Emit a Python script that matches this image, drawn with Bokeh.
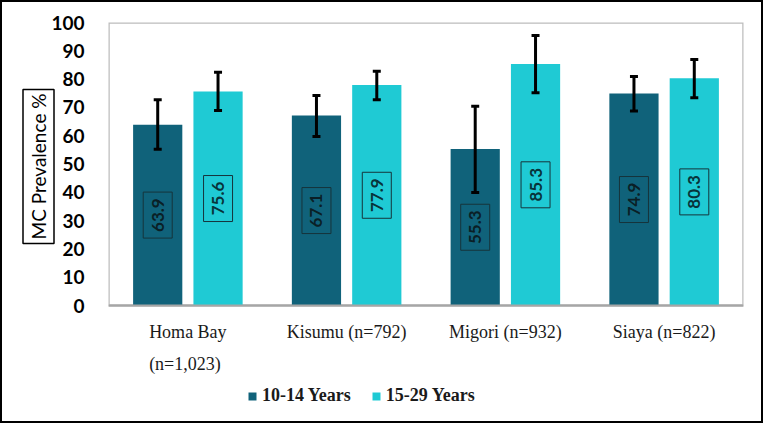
from math import pi
from bokeh.plotting import figure
from bokeh.models import (FactorRange, ColumnDataSource, Whisker, TeeHead, LabelSet,
                          Title, Legend, LegendItem, BoxAnnotation, Span, Range1d)
from bokeh.transform import dodge
from bokeh.core.properties import value
from bokeh.embed import file_html
from bokeh.resources import INLINE

categories = ["Homa Bay\n(n=1,023)", "Kisumu (n=792)", "Migori (n=932)", "Siaya (n=822)"]
series = ["10-14 Years", "15-29 Years"]
prev_10_14 = [63.9, 67.1, 55.3, 74.9]
prev_15_29 = [75.6, 77.9, 85.3, 80.3]
lo_10_14 = [55.2, 59.7, 39.9, 68.7]
hi_10_14 = [72.7, 74.2, 70.4, 80.9]
lo_15_29 = [68.9, 72.7, 75.2, 73.4]
hi_15_29 = [82.4, 82.8, 95.4, 86.9]
y_ticks = list(range(0, 101, 10))
Y_MIN, Y_MAX = 0, 100

DARK = "#10627a"
CYAN = "#1fcad4"

src = ColumnDataSource(dict(
    cat=categories,
    v1=prev_10_14, v2=prev_15_29,
    l1=lo_10_14, u1=hi_10_14, l2=lo_15_29, u2=hi_15_29,
    h1=[v / 2 for v in prev_10_14], h2=[v / 2 for v in prev_15_29],
    t1=[f"{v:.1f}" for v in prev_10_14], t2=[f"{v:.1f}" for v in prev_15_29],
))

# frame extends below the value axis to hold category labels and legend
PX_PER_UNIT = 2.83
p = figure(x_range=FactorRange(factors=categories),
           y_range=Range1d(Y_MIN - 107 / PX_PER_UNIT, Y_MAX),
           frame_width=635, frame_height=390,
           min_border_left=106, min_border_right=18, min_border_top=20, min_border_bottom=9,
           x_axis_location=None,
           output_backend="svg", toolbar_location=None)
p.styles = {"border": "2px solid #000000"}
p.background_fill_color = "white"
p.border_fill_color = "white"
p.outline_line_color = None
p.xgrid.grid_line_color = None
p.ygrid.grid_line_color = None

# plot-area box (0..100) and baseline
p.add_layout(BoxAnnotation(bottom=Y_MIN, top=Y_MAX, fill_alpha=0, line_color="#222222",
                           line_width=2.5, level="underlay"))

OFF = 0.19
W = 0.31
r1 = p.vbar(x=dodge("cat", -OFF, range=p.x_range), top="v1", width=W, source=src,
            fill_color=DARK, line_color=None)
r2 = p.vbar(x=dodge("cat", OFF, range=p.x_range), top="v2", width=W, source=src,
            fill_color=CYAN, line_color=None)

p.add_layout(Span(location=Y_MIN, dimension="width", line_color="#a6a6a6", line_width=2))

for base, lo, hi in [(dodge("cat", -OFF, range=p.x_range), "l1", "u1"),
                     (dodge("cat", OFF, range=p.x_range), "l2", "u2")]:
    w = Whisker(base=base, lower=lo, upper=hi, source=src, line_color="black", line_width=3,
                level="overlay",
                upper_head=TeeHead(size=8, line_width=3, line_color="black"),
                lower_head=TeeHead(size=8, line_width=3, line_color="black"))
    p.add_layout(w)

for xoff, ycol, tcol, col in [(-OFF, "h1", "t1", "#0a1f26"), (OFF, "h2", "t2", "#08343a")]:
    p.rect(x=dodge("cat", xoff, range=p.x_range), y=ycol, width=29, height=46,
           width_units="screen", height_units="screen", source=src,
           fill_color=None, line_color="#16343b", line_width=1)
    ls = LabelSet(x=dodge("cat", xoff, range=p.x_range), y=ycol, text=tcol, source=src,
                  angle=pi / 2, text_align="center", text_baseline="middle",
                  text_font=value("Lato"), text_font_style="bold", text_font_size="17px",
                  text_color=col)
    p.add_layout(ls)

# category labels under the baseline
cat_labels = LabelSet(x="cat", y=Y_MIN, text="cat", source=src, y_offset=-16,
                      text_align="center", text_baseline="top",
                      text_font=value("Liberation Serif"), text_font_size="18px",
                      text_color="#1a1a1a", text_line_height=1.62)
p.add_layout(cat_labels)

ya = p.yaxis[0]
ya.ticker = y_ticks
ya.axis_line_color = None
ya.major_tick_line_color = None
ya.minor_tick_line_color = None
ya.major_label_standoff = 18
ya.major_label_text_font = "Lato"
ya.major_label_text_font_style = "bold"
ya.major_label_text_font_size = "19px"
ya.major_label_text_color = "#000000"

ylab = Title(text="MC Prevalence %", align="right", offset=67,
             text_font="Lato", text_font_size="19px", text_font_style="normal",
             text_color="#000000", border_line_color="#000000", border_line_width=1.5,
             padding=4, standoff=-11)
p.add_layout(ylab, "left")

legend = Legend(items=[LegendItem(label=series[0], renderers=[r1]),
                       LegendItem(label=series[1], renderers=[r2])],
                orientation="horizontal", location=(139, 6),
                glyph_width=10, glyph_height=10, label_standoff=5, spacing=20,
                padding=0, margin=0, border_line_color=None, background_fill_alpha=0,
                label_text_font="Liberation Serif", label_text_font_style="bold",
                label_text_font_size="18px", label_text_color="#1a1a1a")
p.add_layout(legend, "center")

open("out.html", "w").write(file_html(p, INLINE))
